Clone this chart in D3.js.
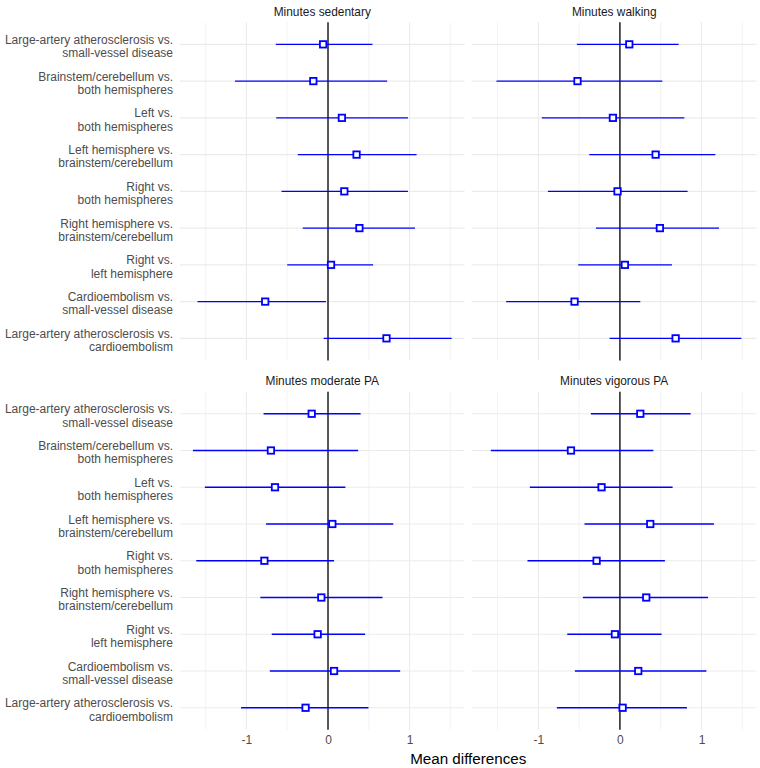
<!DOCTYPE html>
<html>
<head>
<meta charset="utf-8">
<script src="https://cdn.jsdelivr.net/npm/d3@7"></script>
<style>
  body { margin: 0; background: #fff; }
  text { font-family: "Liberation Sans", Arial, sans-serif; }
</style>
</head>
<body>
<div id="chart"></div>
<script>

// comparisons, top to bottom; "\n" marks the line break in the label
var comparisons = [
  "Large-artery atherosclerosis vs.\nsmall-vessel disease",
  "Brainstem/cerebellum vs.\nboth hemispheres",
  "Left vs.\nboth hemispheres",
  "Left hemisphere vs.\nbrainstem/cerebellum",
  "Right vs.\nboth hemispheres",
  "Right hemisphere vs.\nbrainstem/cerebellum",
  "Right vs.\nleft hemisphere",
  "Cardioembolism vs.\nsmall-vessel disease",
  "Large-artery atherosclerosis vs.\ncardioembolism"
];

var outcomes = ["Minutes sedentary", "Minutes walking", "Minutes moderate PA", "Minutes vigorous PA"];

var sedentaryEst = [-0.06, -0.18, 0.17, 0.35, 0.20, 0.385, 0.037, -0.77, 0.717];
var sedentaryLo  = [-0.64, -1.14, -0.635, -0.37, -0.57, -0.31, -0.50, -1.60, -0.053];
var sedentaryHi  = [0.545, 0.725, 0.98, 1.086, 0.98, 1.066, 0.553, -0.025, 1.516];

var walkingEst = [0.115, -0.52, -0.086, 0.438, -0.029, 0.49, 0.061, -0.556, 0.683];
var walkingLo  = [-0.528, -1.513, -0.957, -0.376, -0.883, -0.294, -0.511, -1.395, -0.127];
var walkingHi  = [0.72, 0.52, 0.79, 1.17, 0.83, 1.215, 0.638, 0.25, 1.489];

var moderateEst = [-0.20, -0.70, -0.65, 0.053, -0.78, -0.082, -0.127, 0.074, -0.275];
var moderateLo  = [-0.79, -1.656, -1.51, -0.76, -1.615, -0.83, -0.69, -0.713, -1.066];
var moderateHi  = [0.40, 0.37, 0.213, 0.80, 0.074, 0.668, 0.455, 0.885, 0.496];

var vigorousEst = [0.25, -0.60, -0.225, 0.372, -0.286, 0.323, -0.061, 0.225, 0.033];
var vigorousLo  = [-0.356, -1.583, -1.104, -0.434, -1.133, -0.454, -0.646, -0.552, -0.773];
var vigorousHi  = [0.867, 0.41, 0.646, 1.153, 0.552, 1.08, 0.511, 1.06, 0.822];

var xMajor = [-1, 0, 1];
var xMinor = [-1.5, -0.5, 0.5, 1.5];

var seriesEst = [sedentaryEst, walkingEst, moderateEst, vigorousEst];
var seriesLo  = [sedentaryLo, walkingLo, moderateLo, vigorousLo];
var seriesHi  = [sedentaryHi, walkingHi, moderateHi, vigorousHi];

var width = 760, height = 768;
var plotLeft = 180, plotRight = 756.5;
var gap = 7.3;
var panelW = (plotRight - plotLeft - gap) / 2;
var rowTop = [22.3, 391.7];
var panelH = 338.1;

var svg = d3.select("#chart").append("svg")
    .attr("width", width)
    .attr("height", height);

// same x domain for all panels (ggplot adds 5% either side of the data range)
var allVals = d3.merge(seriesLo.concat(seriesHi));
var ext = d3.extent(allVals);
var pad = (ext[1] - ext[0]) * 0.05;

var x = d3.scaleLinear()
    .domain([ext[0] - pad, ext[1] + pad])
    .range([0, panelW]);

var y = d3.scalePoint()
    .domain(comparisons)
    .range([0, panelH])
    .padding(0.6);

outcomes.forEach(function(name, k) {
  var col = k % 2, row = Math.floor(k / 2);
  var g = svg.append("g")
      .attr("transform", "translate(" + (plotLeft + col * (panelW + gap)) + "," + rowTop[row] + ")");

  // minor vertical grid
  g.selectAll(".minor").data(xMinor).enter().append("line")
      .attr("x1", d => x(d)).attr("x2", d => x(d))
      .attr("y1", 0).attr("y2", panelH)
      .attr("stroke", "#EBEBEB").attr("stroke-width", 0.6);

  // major vertical grid
  g.selectAll(".major").data(xMajor).enter().append("line")
      .attr("x1", d => x(d)).attr("x2", d => x(d))
      .attr("y1", 0).attr("y2", panelH)
      .attr("stroke", "#EBEBEB").attr("stroke-width", 1.1);

  // horizontal grid
  g.selectAll(".hgrid").data(comparisons).enter().append("line")
      .attr("x1", 0).attr("x2", panelW)
      .attr("y1", d => y(d)).attr("y2", d => y(d))
      .attr("stroke", "#EBEBEB").attr("stroke-width", 1.1);

  // zero line
  g.append("line")
      .attr("x1", x(0)).attr("x2", x(0))
      .attr("y1", 0).attr("y2", panelH)
      .attr("stroke", "#222").attr("stroke-width", 1.5);

  var rows = comparisons.map(function(c, i) {
    return { cat: c, est: seriesEst[k][i], lo: seriesLo[k][i], hi: seriesHi[k][i] };
  });

  g.selectAll(".err").data(rows).enter().append("line")
      .attr("x1", d => x(d.lo)).attr("x2", d => x(d.hi))
      .attr("y1", d => y(d.cat)).attr("y2", d => y(d.cat))
      .attr("stroke", "#0000FF").attr("stroke-width", 1.4);

  var s = 6.4;
  g.selectAll(".pt").data(rows).enter().append("rect")
      .attr("x", d => x(d.est) - s / 2)
      .attr("y", d => y(d.cat) - s / 2)
      .attr("width", s).attr("height", s)
      .attr("fill", "#fff")
      .attr("stroke", "#0000FF").attr("stroke-width", 1.8);

  // facet strip title
  g.append("text")
      .attr("x", panelW / 2)
      .attr("y", -6.8)
      .attr("text-anchor", "middle")
      .attr("font-size", "11.9px")
      .attr("fill", "#1A1A1A")
      .text(name);

  // y labels only on left column
  if (col === 0) {
    var yAxis = g.append("g")
        .call(d3.axisLeft(y).tickSize(0).tickPadding(7).tickFormat(""));
    yAxis.select(".domain").remove();
    yAxis.selectAll(".tick").each(function(d) {
      var lines = d.split("\n");
      var t = d3.select(this).select("text")
          .attr("font-size", "12px")
          .attr("fill", "#4D4D4D")
          .attr("text-anchor", "end")
          .attr("font-family", "'Liberation Sans', Arial, sans-serif")
          .attr("dy", null)
          .text(null);
      lines.forEach(function(line, j) {
        t.append("tspan")
            .attr("x", -7)
            .attr("y", j === 0 ? -0.9 : 12.3)
            .text(line);
      });
    });
  }

  // x ticks only on bottom row
  if (row === 1) {
    var xAxis = g.append("g")
        .attr("transform", "translate(0," + panelH + ")")
        .call(d3.axisBottom(x).tickValues(xMajor).tickSize(0).tickPadding(6)
          .tickFormat(d => d < 0 ? "-" + Math.abs(d) : d));
    xAxis.select(".domain").remove();
    xAxis.selectAll("text")
        .attr("font-size", "12px")
        .attr("fill", "#4D4D4D")
        .attr("font-family", "'Liberation Sans', Arial, sans-serif");
  }
});

// x axis title
svg.append("text")
    .attr("x", (plotLeft + plotRight) / 2)
    .attr("y", 763.5)
    .attr("text-anchor", "middle")
    .attr("font-size", "15.2px")
    .attr("fill", "#000")
    .text("Mean differences");

</script>
</body>
</html>
